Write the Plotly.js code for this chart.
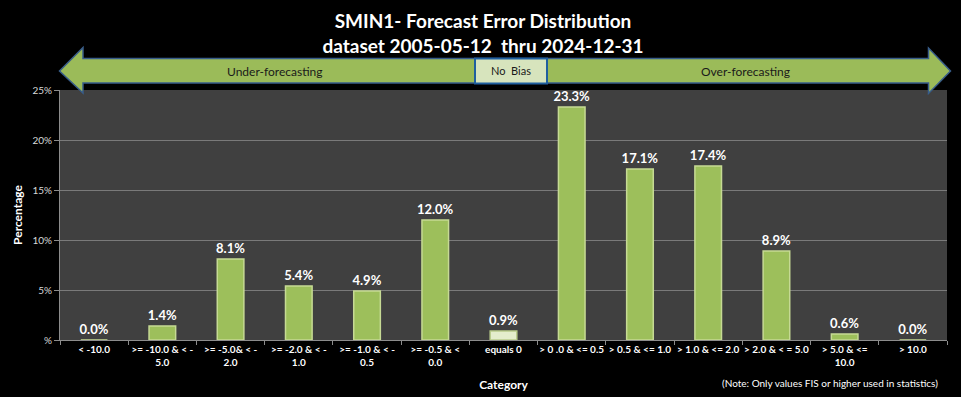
<!DOCTYPE html>
<html><head><meta charset="utf-8">
<script src="https://cdn.plot.ly/plotly-3.0.1.min.js"></script>
<style>html,body{margin:0;padding:0;background:#000;}#chart{width:961px;height:397px;}</style>
</head><body><div id="chart"></div>
<script>
const categories = [
  "< -10.0",
  ">= -10.0 & < -<br>5.0",
  ">= -5.0& < -<br>2.0",
  ">= -2.0 & < -<br>1.0",
  ">= -1.0 & < -<br>0.5",
  ">= -0.5 & <<br>0.0",
  "equals 0",
  "> 0 .0 & <= 0.5",
  "> 0.5 & <= 1.0",
  "> 1.0 & <= 2.0",
  "> 2.0 & < = 5.0",
  "> 5.0 & <=<br>10.0",
  "> 10.0"
];
const percentages = [0.0, 1.4, 8.1, 5.4, 4.9, 12.0, 0.9, 23.3, 17.1, 17.4, 8.9, 0.6, 0.0];
const yTickVals = [0, 5, 10, 15, 20, 25];
const yTickText = ["%", "5%", "10%", "15%", "20%", "25%"];
const titleLines = ["SMIN1- Forecast Error Distribution", "dataset 2005-05-12  thru 2024-12-31"];
const bandLabels = ["Under-forecasting", "No  Bias", "Over-forecasting"];
const noteText = "(Note: Only values FIS or higher used in statistics)";

const W = 961, H = 397;
const M = {l: 60, r: 14, t: 90, b: 57};
const pw = W - M.l - M.r, ph = H - M.t - M.b;
const px = x => (x - M.l) / pw;
const py = y => (H - M.b - y) / ph;
const P = (x, y) => px(x).toFixed(5) + "," + py(y).toFixed(5);

const FONT = "Lato, 'Open Sans', sans-serif";

const barColors = categories.map(c => c === "equals 0" ? "#e4edcc" : "#9dbf5b");
const barLines = categories.map(c => c === "equals 0" ? "#b9cc8a" : "#c6da94");

const arrowPath = "M" + [
  P(59.5, 71), P(83, 47.5), P(83, 58.5), P(928.5, 58.5), P(928.5, 48),
  P(950.5, 71), P(928.5, 93.5), P(928.5, 83), P(83, 83), P(83, 93)
].join(" L") + " Z";

const trace = {
  type: "bar",
  x: categories,
  y: percentages,
  marker: {color: barColors, line: {color: barLines, width: 1.5}},
  texttemplate: "%{y:.1f}%",
  textposition: "outside",
  constraintext: "none",
  cliponaxis: false,
  textfont: {family: FONT, size: 13, color: "#ffffff", weight: "bold"},
  hoverinfo: "x+y"
};

const layout = {
  width: W, height: H,
  margin: M,
  paper_bgcolor: "#000000",
  plot_bgcolor: "#404040",
  bargap: 0.61,
  showlegend: false,
  title: {
    text: titleLines.join("<br>"),
    font: {family: FONT, size: 19, color: "#ffffff", weight: "bold"},
    xref: "container", yref: "container",
    x: 483 / W, xanchor: "center",
    y: 1 - 28 / H, yanchor: "top"
  },
  xaxis: {
    type: "category",
    tickson: "boundaries",
    ticks: "outside", ticklen: 4, tickcolor: "#8c8c8c",
    showline: true, linecolor: "#8c8c8c", linewidth: 1,
    showgrid: false,
    tickfont: {family: FONT, size: 10, color: "#ffffff", weight: "bold"},
    tickangle: 0,
    title: {text: "Category", font: {family: FONT, size: 12, color: "#ffffff", weight: "bold"}, standoff: 13},
    fixedrange: true
  },
  yaxis: {
    range: [0, 25],
    tickvals: yTickVals, ticktext: yTickText,
    ticks: "outside", ticklen: 5, tickcolor: "#8c8c8c",
    showline: true, linecolor: "#8c8c8c", linewidth: 1,
    showgrid: true, gridcolor: "#7a7a7a", gridwidth: 1,
    zeroline: false,
    tickfont: {family: FONT, size: 10, color: "#d9d9d9"},
    title: {text: "Percentage", font: {family: FONT, size: 12, color: "#ffffff", weight: "bold"}, standoff: 7},
    fixedrange: true
  },
  shapes: [
    {type: "path", xref: "paper", yref: "paper", path: arrowPath,
     fillcolor: "#9bbb59", line: {color: "#385d8a", width: 1.5}, layer: "above"},
    {type: "rect", xref: "paper", yref: "paper",
     x0: px(475), x1: px(547), y0: py(83.5), y1: py(58.5),
     fillcolor: "#d7e4bd", line: {color: "#1f5f9f", width: 2}, layer: "above"}
  ],
  annotations: [
    {xref: "paper", yref: "paper", x: px(274), y: py(71.5), text: bandLabels[0], showarrow: false,
     font: {family: FONT, size: 12, color: "#1a1a1a"}, xanchor: "center", yanchor: "middle"},
    {xref: "paper", yref: "paper", x: px(511), y: py(71), text: bandLabels[1], showarrow: false,
     font: {family: FONT, size: 11, color: "#1a1a1a"}, xanchor: "center", yanchor: "middle"},
    {xref: "paper", yref: "paper", x: px(745), y: py(72), text: bandLabels[2], showarrow: false,
     font: {family: FONT, size: 12, color: "#1a1a1a"}, xanchor: "center", yanchor: "middle"},
    {xref: "paper", yref: "paper", x: px(940), y: py(383), text: noteText, showarrow: false,
     font: {family: FONT, size: 10, color: "#ffffff"}, xanchor: "right", yanchor: "middle"}
  ]
};

Plotly.newPlot("chart", [trace], layout, {displayModeBar: false, staticPlot: true});
</script></body></html>
